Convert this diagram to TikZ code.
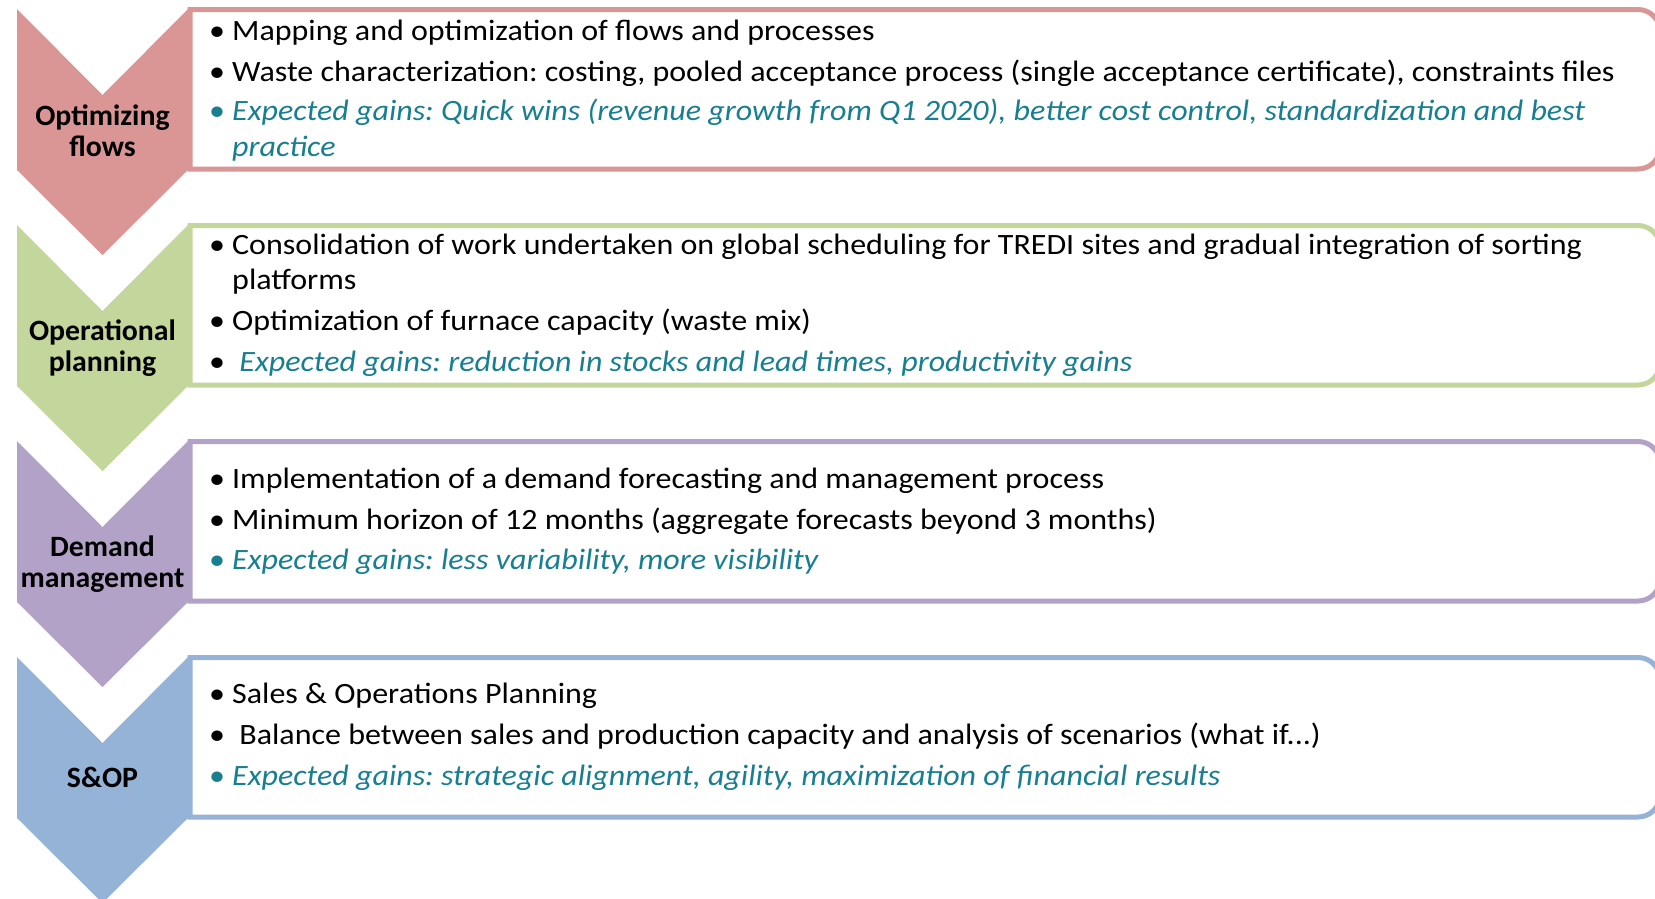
\documentclass[tikz,border=0pt]{standalone}
\usepackage{fontspec}
\setmainfont{Carlito}[FakeStretch=1.085]
\newfontfamily\labfont{Carlito}[FakeStretch=1.01]
\frenchspacing
\definecolor{cred}{HTML}{D99694}
\definecolor{cgreen}{HTML}{C3D69B}
\definecolor{cpurple}{HTML}{B3A2C7}
\definecolor{cblue}{HTML}{95B3D7}
\definecolor{cteal}{RGB}{24,127,145}
\newcommand\mybul{\makebox[0pt][c]{\upshape\textbullet}\hspace{15pt}}
\begin{document}
\begin{tikzpicture}[x=1pt,y=-1pt,
  boxline/.style={line width=5pt},
  txt/.style={inner sep=0pt, anchor=base west, font=\fontsize{29.5}{36}\selectfont},
  gain/.style={txt, text=cteal, font=\fontsize{29.5}{36}\selectfont\itshape},
  lab/.style={inner sep=0pt, anchor=base, font=\labfont\fontsize{29.5}{31}\selectfont\bfseries}]
\useasboundingbox (0,0) rectangle (1655,898);
\clip (0,0) rectangle (1655,898);
\fill[white] (0,0) rectangle (1655,898);
\foreach \k/\c in {0/cred,1/cgreen,2/cpurple,3/cblue}{
  \pgfmathsetmacro\T{9+216*\k}
  \pgfmathsetmacro\B{\T+160}
  \draw[boxline, draw=\c, fill=white] (190,{\T+0.5}) -- (1638,{\T+0.5})
     .. controls (1650.15,{\T+0.5}) and (1660,{\T+10.35}) .. (1660,{\T+22.5})
     -- (1660,{\B-22}) .. controls (1660,{\B-9.85}) and (1650.15,\B) .. (1638,\B)
     -- (190,\B) -- cycle;
  \fill[\c] (17,\T) -- (102.5,{\T+86}) -- (188,\T) -- (188,{\T+161})
     -- (102.5,{\T+246}) -- (17,{\T+161}) -- cycle;
}
% labels
\node[lab] (l1a) at (102.5,125) {Optimizing};
\node[lab] (l1b) at (102.5,156.5) {flows};
\node[lab] (l2a) at (102.5,340) {Operational};
\node[lab] (l2b) at (102.5,371.5) {planning};
\node[lab] (l3a) at (102.5,556) {Demand};
\node[lab] (l3b) at (102.5,587.5) {management};
\node[lab] (l4a) at (102.5,787) {S\&OP};
% box 1
\node[txt] (t1a) at (217,40.5) {\mybul Mapping and optimization of flows and processes};
\node[txt] (t1b) at (217,81) {\mybul Waste characterization: costing, pooled acceptance process (single acceptance certificate), constraints files};
\node[gain] (t1c) at (217,120.5) {\mybul Expected gains: Quick wins (revenue growth from Q1 2020), better cost control, standardization and best};
\node[gain] (t1d) at (232,156) {practice};
% box 2
\node[txt] (t2a) at (217,254) {\mybul Consolidation of work undertaken on global scheduling for TREDI sites and gradual integration of sorting};
\node[txt] (t2b) at (232,289.5) {platforms};
\node[txt] (t2c) at (217,330) {\mybul Optimization of furnace capacity (waste mix)};
\node[txt] (t2d) at (217,371) {\mybul\ {\color{cteal}\itshape Expected gains: reduction in stocks and lead times, productivity gains}};
% box 3
\node[txt] (t3a) at (217,488) {\mybul Implementation of a demand forecasting and management process};
\node[txt] (t3b) at (217,529) {\mybul Minimum horizon of 12 months (aggregate forecasts beyond 3 months)};
\node[gain] (t3c) at (217,569) {\mybul Expected gains: less variability, more visibility};
% box 4
\node[txt] (t4a) at (217,703) {\mybul Sales \& Operations Planning};
\node[txt] (t4b) at (217,744) {\mybul\ Balance between sales and production capacity and analysis of scenarios (what if...)};
\node[gain] (t4c) at (217,785) {\mybul Expected gains: strategic alignment, agility, maximization of financial results};
\end{tikzpicture}
\end{document}
